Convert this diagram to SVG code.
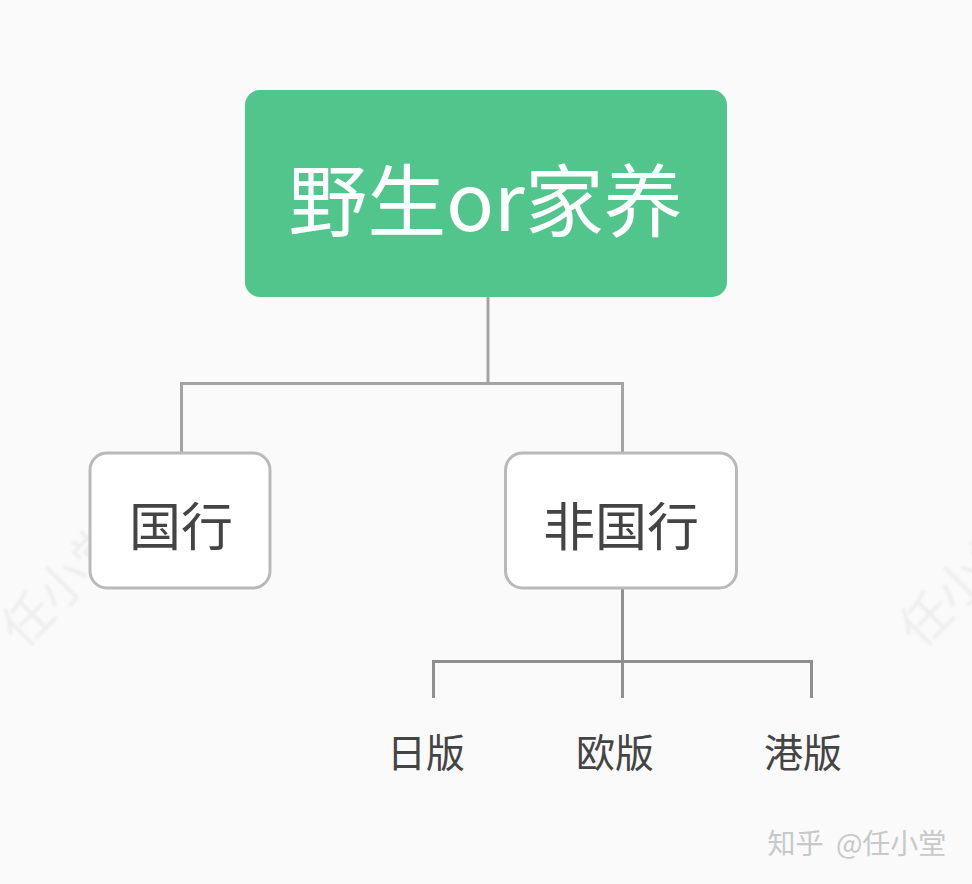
<svg xmlns="http://www.w3.org/2000/svg" width="972" height="884" viewBox="0 0 972 884">
<defs><filter id="soft" x="-20%" y="-20%" width="140%" height="140%"><feGaussianBlur stdDeviation="0.9"/></filter></defs>
<style>
text{font-family:"Noto Sans CJK SC","Noto Sans",sans-serif;text-anchor:middle}
.box{fill:#fff;stroke:#b9b9b9;stroke-width:3}
.t{fill:#444;font-size:52px}
.s{fill:#444;font-size:39px}
.c1{fill:none;stroke:#a3a3a3;stroke-width:3}
.c2{fill:none;stroke:#8e8e8e;stroke-width:3}
.wm{fill:#eeeeee;font-size:50px;filter:url(#soft)}
</style>
<rect width="972" height="884" fill="#fafafa"/>
<g id="watermarks">
<text class="wm" transform="translate(63 584) rotate(-45)" x="0" y="18">任小堂</text>
<text class="wm" transform="translate(961 584) rotate(-45)" x="0" y="18">任小堂</text>
</g>
<g id="connectors">
<path class="c1" d="M488 296V383M181.500 452V383.500H622.500V452"/>
<path class="c2" d="M622.500 588V698M433.500 698V661.500H811.500V698"/>
</g>
<g id="root"><rect x="245" y="90" width="482" height="207" rx="15" fill="#52c58c"/>
<text x="485.500" y="231" fill="#fff" font-size="79">野生or家养</text></g>
<g id="guohang"><rect class="box" x="90" y="453" width="180" height="135" rx="17"/><text class="t" x="181" y="546">国行</text></g>
<g id="feiguohang"><rect class="box" x="505.500" y="453" width="231" height="135" rx="17"/><text class="t" x="621" y="546">非国行</text></g>
<g id="riban"><text class="s" x="426" y="767">日版</text></g>
<g id="ouban"><text class="s" x="615" y="767">欧版</text></g>
<g id="gangban"><text class="s" x="803" y="767">港版</text></g>
<g id="credit"><text x="857" y="854" fill="#c8c8c8" font-size="28" word-spacing="6">知乎 @任小堂</text></g>
</svg>
